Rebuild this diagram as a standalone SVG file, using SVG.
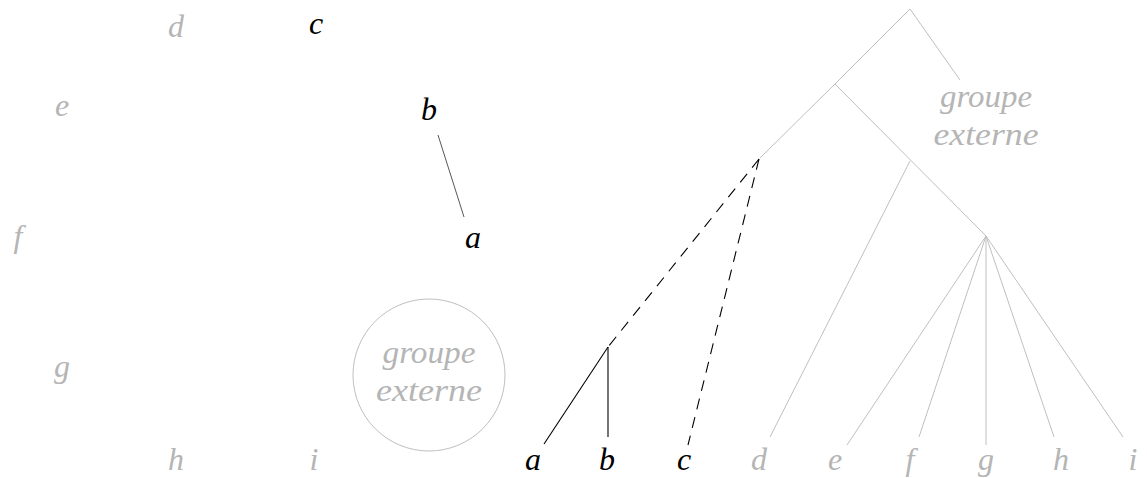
<svg xmlns="http://www.w3.org/2000/svg" width="1147" height="478" viewBox="0 0 1147 478">
<style>
text{font-family:'Liberation Serif','DejaVu Serif',serif;font-style:italic;font-size:32px;text-anchor:middle}
.k{fill:#000}
.g{fill:#b5b5b5}
.gl{stroke:#bfbfbf;stroke-width:1;fill:none}
.bl{stroke:#000;stroke-width:1.1;fill:none}
.dl{stroke:#000;stroke-width:1.1;fill:none;stroke-dasharray:11 8}
</style>
<rect width="1147" height="478" fill="#fff"/>
<g id="left-labels">
<g id="L-d"><text class="g" x="176" y="37">d</text></g>
<g id="L-c"><text class="k" x="316" y="34">c</text></g>
<g id="L-e"><text class="g" x="62" y="116">e</text></g>
<g id="L-b"><text class="k" x="429" y="120">b</text></g>
<g id="L-a"><text class="k" x="473" y="248">a</text></g>
<g id="L-f"><text class="g" x="18" y="247">f</text></g>
<g id="L-g"><text class="g" x="62" y="377">g</text></g>
<g id="L-h"><text class="g" x="176" y="470">h</text></g>
<g id="L-i"><text class="g" x="314" y="470">i</text></g>
<g id="L-out">
<circle cx="429" cy="375" r="76" fill="none" stroke="#bfbfbf" stroke-width="1"/>
<text class="g" x="429" y="363" textLength="93" lengthAdjust="spacingAndGlyphs">groupe</text>
<text class="g" x="429" y="401" textLength="106" lengthAdjust="spacingAndGlyphs">externe</text>
</g>
</g>
<g id="left-connectors">
<line x1="438" y1="135" x2="464" y2="217" stroke="#444" stroke-width="0.9"/>
</g>
<g id="tree-connectors">
<polyline class="gl" points="960,80 910,9 835,84 760,158"/>
<line class="gl" x1="835" y1="84" x2="986" y2="236"/>
<line class="gl" x1="910" y1="161" x2="770" y2="437"/>
<line class="gl" x1="986" y1="236" x2="847" y2="445"/>
<line class="gl" x1="986" y1="236" x2="919" y2="437"/>
<line class="gl" x1="986" y1="236" x2="986" y2="445"/>
<line class="gl" x1="986" y1="236" x2="1054" y2="437"/>
<line class="gl" x1="986" y1="236" x2="1123" y2="437"/>
<line class="dl" x1="759" y1="159" x2="608" y2="347"/>
<line class="dl" x1="759" y1="159" x2="688" y2="445"/>
<line class="bl" x1="608" y1="347" x2="544" y2="444"/>
<line class="bl" x1="608" y1="347" x2="608" y2="437"/>
</g>
<g id="tree-leaves">
<g id="T-a"><text class="k" x="533" y="470">a</text></g>
<g id="T-b"><text class="k" x="607" y="470">b</text></g>
<g id="T-c"><text class="k" x="684" y="470">c</text></g>
<g id="T-d"><text class="g" x="759" y="470">d</text></g>
<g id="T-e"><text class="g" x="835" y="470">e</text></g>
<g id="T-f"><text class="g" x="910" y="470">f</text></g>
<g id="T-g"><text class="g" x="986" y="470">g</text></g>
<g id="T-h"><text class="g" x="1061" y="470">h</text></g>
<g id="T-i"><text class="g" x="1133" y="470">i</text></g>
<g id="T-out">
<text class="g" x="986" y="107" textLength="92" lengthAdjust="spacingAndGlyphs">groupe</text>
<text class="g" x="986" y="145" textLength="105" lengthAdjust="spacingAndGlyphs">externe</text>
</g>
</g>
</svg>
